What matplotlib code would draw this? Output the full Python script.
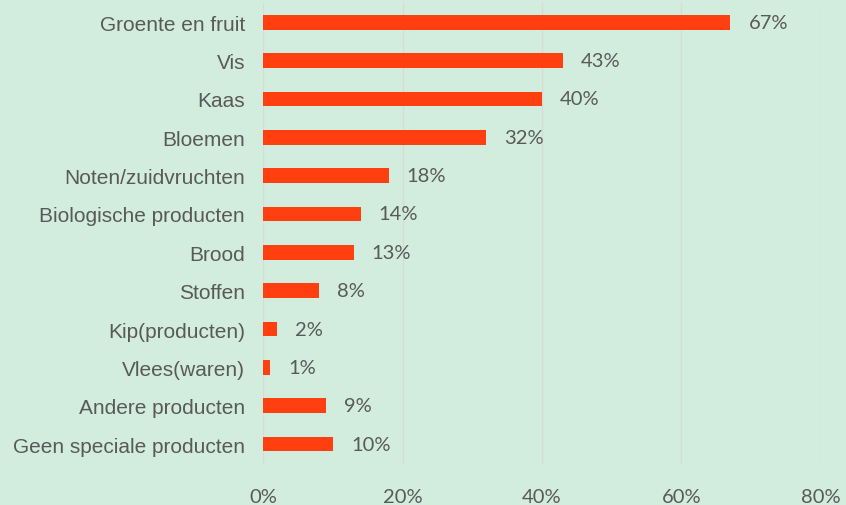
import matplotlib
matplotlib.use("Agg")
import matplotlib.pyplot as plt
from matplotlib.ticker import FuncFormatter

categories = ["Groente en fruit", "Vis", "Kaas", "Bloemen", "Noten/zuidvruchten",
              "Biologische producten", "Brood", "Stoffen", "Kip(producten)",
              "Vlees(waren)", "Andere producten", "Geen speciale producten"]
values = [67, 43, 40, 32, 18, 14, 13, 8, 2, 1, 9, 10]
xticks = [0, 20, 40, 60, 80]

bg = "#D2EDDE"
bar_color = "#FF3F0F"
text_color = "#595959"

fig = plt.figure(figsize=(8.46, 5.06), dpi=100, facecolor=bg)
ax = fig.add_axes([0.3109, 0.081, 0.6595, 0.911], facecolor=bg)

y = list(range(len(categories)))
ax.barh(y, values, height=0.38, color=bar_color, zorder=3)
for yi, v in zip(y, values):
    ax.text(v + 2.6, yi, f"{v}%", va="center", ha="left", fontsize=14.5,
            family=["Lato", "DejaVu Sans"], color=text_color)

ax.set_xlim(0, 80)
ax.set_ylim(11.52, -0.5)
ax.set_xticks(xticks)
ax.xaxis.set_major_formatter(FuncFormatter(lambda v, p: f"{v:.0f}%"))
ax.set_yticks(y)
ax.set_yticklabels(categories, family=["Liberation Sans", "DejaVu Sans"],
                   fontsize=15, color=text_color)
for lbl in ax.get_xticklabels():
    lbl.set_family(["Lato", "DejaVu Sans"])
    lbl.set_fontsize(14.5)
    lbl.set_color(text_color)
ax.tick_params(axis="x", length=0, pad=17)
ax.tick_params(axis="y", length=0, pad=13)
ax.grid(axis="x", color="#D9D9D9", linewidth=1, zorder=0)
for s in ax.spines.values():
    s.set_visible(False)

fig.savefig("out.png", dpi=100, facecolor=bg)
